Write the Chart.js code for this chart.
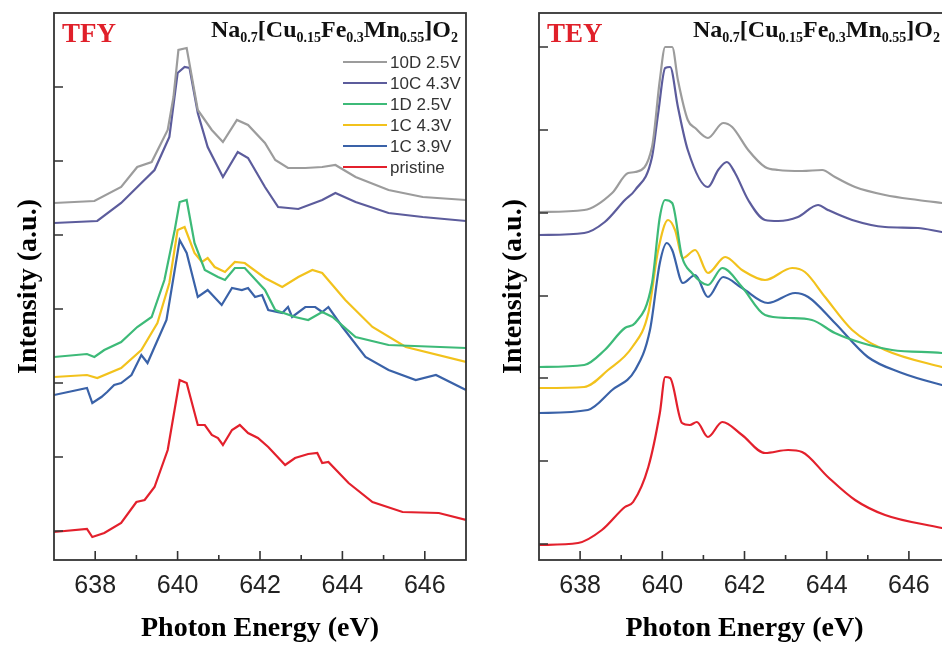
<!DOCTYPE html>
<html>
<head>
<meta charset="utf-8">
<script src="https://cdn.jsdelivr.net/npm/chart.js@4.4.1/dist/chart.umd.min.js"></script>
<style>
  html, body { margin: 0; padding: 0; background: #fff; overflow: hidden; }
  body { width: 942px; height: 648px; position: relative; }
  .panel { position: absolute; top: 0; }
</style>
</head>
<body>
<div class="panel" style="left:0"><canvas id="tfy" width="470" height="648"></canvas></div>
<div class="panel" style="left:470px"><canvas id="tey" width="490" height="648"></canvas></div>
<script>
// series names and colours (same order in both panels, top to bottom)
const seriesLabels = ['10D 2.5V', '10C 4.3V', '1D 2.5V', '1C 4.3V', '1C 3.9V', 'pristine'];
const seriesColors = ['#9c9c9c', '#5c5c9c', '#3dba78', '#f2c21c', '#3a62a8', '#e3202c'];

// axis ticks
const xTickLabels = ['638', '640', '642', '644', '646'];
const tfyYTicks = [29, 103, 177, 251, 325, 399, 473];
const teyYTicks = [16, 99, 182, 264, 347, 430, 513];

// TFY spectra: [photon energy (eV), intensity (a.u., offset)]
const tfy10D = [[637.0,357],[637.98,359],[638.63,373],[639.02,393],[639.37,398],[639.76,430],[639.9,463],[640.02,510],[640.22,512],[640.49,450],[640.83,430],[641.1,418],[641.44,440],[641.71,435],[642.12,417],[642.37,400],[642.68,392],[643.1,392],[643.51,393],[643.83,395],[644.32,383],[645.12,370],[645.95,363],[647.0,360]];
const tfy10C = [[637.0,337],[638.05,339],[638.63,357],[639.12,377],[639.44,390],[639.8,423],[640.0,487],[640.17,493],[640.29,492],[640.49,447],[640.73,413],[641.1,383],[641.46,408],[641.71,402],[642.12,373],[642.44,353],[642.93,351],[643.51,360],[643.83,367],[644.32,358],[645.12,347],[645.95,343],[647.0,339]];
const tfy1D = [[637.0,203],[637.8,206],[637.98,203],[638.22,210],[638.63,218],[639.02,233],[639.37,243],[639.68,280],[639.93,330],[640.05,358],[640.22,360],[640.41,317],[640.66,290],[640.98,283],[641.15,280],[641.39,292],[641.63,292],[642.12,270],[642.37,250],[642.85,243],[643.17,240],[643.51,248],[643.76,243],[644.32,223],[645.12,215],[647.0,212]];
const tfy1C43 = [[637.0,183],[637.8,185],[638.05,182],[638.63,192],[639.12,210],[639.51,237],[639.8,277],[640.0,330],[640.17,333],[640.41,307],[640.59,298],[640.73,302],[640.9,293],[641.15,288],[641.39,298],[641.63,297],[642.12,282],[642.54,273],[642.93,283],[643.27,290],[643.51,287],[644.07,260],[644.73,233],[645.54,213],[647.0,198]];
const tfy1C39 = [[637.0,165],[637.8,172],[637.93,157],[638.15,163],[638.29,168],[638.46,175],[638.63,177],[638.88,185],[639.12,205],[639.27,197],[639.44,213],[639.73,240],[639.93,290],[640.05,320],[640.22,307],[640.49,263],[640.73,270],[641.07,255],[641.32,272],[641.56,270],[641.71,272],[641.88,263],[642.05,265],[642.2,250],[642.54,247],[642.68,253],[642.78,243],[643.1,253],[643.34,253],[643.51,248],[643.66,253],[644.0,233],[644.56,203],[645.12,190],[645.78,180],[646.27,185],[647.0,170]];
const tfyPristine = [[637.0,28],[637.8,31],[637.93,23],[638.22,27],[638.63,37],[639.0,58],[639.2,60],[639.44,73],[639.76,110],[640.05,180],[640.22,177],[640.49,135],[640.66,135],[640.83,125],[640.98,122],[641.1,115],[641.32,130],[641.51,135],[641.71,127],[641.95,122],[642.2,113],[642.61,95],[642.85,102],[643.17,106],[643.39,107],[643.51,97],[643.66,98],[644.15,77],[644.73,58],[645.46,48],[646.34,47],[647.0,40]];

// TEY spectra
const tey10D = [[637.0,348],[638.1,350],[638.78,367],[639.17,387],[639.34,388],[639.75,413],[639.94,480],[640.07,513],[640.24,513],[640.38,480],[640.62,440],[640.8,432],[641.11,422],[641.48,437],[641.7,433],[642.09,410],[642.5,393],[642.82,390],[643.4,389],[643.89,390],[644.2,383],[644.69,373],[645.42,365],[646.22,360],[646.8,357],[647.0,356]];
const tey10C = [[637.0,325],[638.1,327],[638.6,338],[639.09,360],[639.34,370],[639.75,403],[639.9,447],[640.07,492],[640.19,493],[640.38,453],[640.62,410],[641.11,373],[641.36,390],[641.57,398],[641.77,387],[642.09,360],[642.5,340],[642.82,339],[643.3,343],[643.79,355],[644.03,350],[644.62,340],[645.42,333],[646.22,332],[646.8,328],[647.0,327]];
const tey1D = [[637.0,193],[638.1,195],[638.6,210],[639.09,232],[639.34,237],[639.75,277],[639.94,343],[640.07,360],[640.24,357],[640.48,303],[640.72,287],[641.11,275],[641.46,292],[641.94,273],[642.5,245],[643.06,242],[643.64,240],[644.2,227],[644.86,217],[645.59,210],[646.8,207],[647.0,206]];
const tey1C43 = [[637.0,172],[638.1,173],[638.68,190],[639.27,213],[639.66,247],[639.9,310],[640.14,340],[640.31,330],[640.5,302],[640.8,310],[641.11,287],[641.53,303],[641.94,290],[642.5,280],[643.16,292],[643.47,288],[643.96,263],[644.62,230],[645.42,210],[646.8,193],[647.0,191]];
const tey1C39 = [[637.0,147],[638.19,150],[638.78,170],[639.34,190],[639.7,230],[639.94,297],[640.11,317],[640.24,310],[640.5,277],[640.8,285],[641.11,263],[641.48,283],[641.94,272],[642.57,257],[643.23,267],[643.55,263],[644.2,237],[645.0,203],[645.83,187],[646.8,175],[647.0,173]];
const teyPristine = [[637.0,15],[637.95,17],[638.53,30],[639.09,53],[639.29,58],[639.66,93],[639.94,147],[640.07,183],[640.19,182],[640.48,137],[640.67,135],[640.84,138],[641.11,123],[641.46,138],[641.94,125],[642.5,107],[643.06,110],[643.4,108],[644.03,83],[644.69,60],[645.42,45],[646.8,32],[647.0,30]];

const serif = '"Liberation Serif", "Times New Roman", serif';
const sans = '"Liberation Sans", Arial, sans-serif';
const formulaParts = [['Na', 0], ['0.7', 1], ['[Cu', 0], ['0.15', 1], ['Fe', 0], ['0.3', 1], ['Mn', 0], ['0.55', 1], [']O', 0], ['2', 1]];

// frame, inward ticks, panel tag, formula and legend
const panelDecor = {
    id: 'panelDecor',
    afterDraw(chart, args, opts) {
        const { ctx, chartArea: a, scales } = chart;
        ctx.save();
        ctx.strokeStyle = '#333';
        ctx.lineWidth = 1.6;
        ctx.beginPath();
        scales.x.ticks.forEach(t => {
            if (t.value <= scales.x.min || t.value >= scales.x.max) return;
            const px = scales.x.getPixelForValue(t.value);
            const len = t.value % 2 === 0 ? 9 : 5;
            ctx.moveTo(px, a.bottom);
            ctx.lineTo(px, a.bottom - len);
        });
        scales.y.ticks.forEach(t => {
            const py = scales.y.getPixelForValue(t.value);
            ctx.moveTo(a.left, py);
            ctx.lineTo(a.left + 9, py);
        });
        ctx.stroke();
        ctx.lineWidth = 1.8;
        ctx.strokeRect(a.left, a.top, a.right - a.left, a.bottom - a.top);

        // tag (TFY / TEY)
        ctx.fillStyle = '#e0202a';
        ctx.font = 'bold 27px ' + serif;
        ctx.textBaseline = 'alphabetic';
        ctx.textAlign = 'left';
        ctx.fillText(opts.tag, a.left + 8, 42);

        // chemical formula with subscripts
        const mainFont = 'bold 24px ' + serif;
        const subFont = 'bold 14px ' + serif;
        let total = 0;
        formulaParts.forEach(([s, sub]) => { ctx.font = sub ? subFont : mainFont; total += ctx.measureText(s).width; });
        let fx = opts.formulaRight - total;
        ctx.fillStyle = '#111';
        formulaParts.forEach(([s, sub]) => {
            ctx.font = sub ? subFont : mainFont;
            ctx.fillText(s, fx, sub ? 42 : 37);
            fx += ctx.measureText(s).width;
        });

        if (opts.legend) {
            ctx.font = '17px ' + sans;
            ctx.textBaseline = 'middle';
            chart.data.datasets.forEach((ds, i) => {
                const y = 62 + 21 * i;
                ctx.strokeStyle = ds.borderColor;
                ctx.lineWidth = 2;
                ctx.beginPath();
                ctx.moveTo(343, y);
                ctx.lineTo(387, y);
                ctx.stroke();
                ctx.fillStyle = '#333';
                ctx.fillText(ds.label, 390, y + 1);
            });
        }
        ctx.restore();
    }
};

function makePanel(canvasId, series, yTicks, cfg) {
    const datasets = series.map((d, i) => ({
        label: seriesLabels[i],
        data: d,
        borderColor: seriesColors[i],
        borderWidth: 2.2,
        pointRadius: 0,
        cubicInterpolationMode: cfg.smooth ? 'monotone' : 'default',
        tension: 0,
        fill: false
    }));
    return new Chart(document.getElementById(canvasId), {
        type: 'line',
        data: { datasets },
        plugins: [panelDecor],
        options: {
            responsive: false,
            animation: false,
            layout: { padding: { top: 13, right: cfg.padRight, left: 0, bottom: 0 } },
            plugins: {
                legend: { display: false },
                tooltip: { enabled: false },
                panelDecor: { tag: cfg.tag, formulaRight: cfg.formulaRight, legend: cfg.legend }
            },
            scales: {
                x: {
                    type: 'linear',
                    min: 637,
                    max: 647,
                    grid: { display: false },
                    border: { display: false },
                    ticks: {
                        stepSize: 1,
                        autoSkip: false,
                        maxRotation: 0,
                        padding: 3,
                        color: '#222',
                        font: { family: sans, size: 25 },
                        callback: v => xTickLabels.includes(String(v)) ? String(v) : ''
                    },
                    title: {
                        display: true,
                        text: 'Photon Energy (eV)',
                        color: '#000',
                        font: { family: serif, size: 28, weight: 'bold' },
                        padding: { top: 0, bottom: 2 }
                    },
                    afterFit: s => { s.height = 88; }
                },
                y: {
                    min: 0,
                    max: 547,
                    grid: { display: false },
                    border: { display: false },
                    ticks: { display: false },
                    afterBuildTicks: s => { s.ticks = yTicks.map(v => ({ value: v })); },
                    title: {
                        display: true,
                        text: 'Intensity (a.u.)',
                        color: '#000',
                        font: { family: serif, size: 28, weight: 'bold' },
                        padding: { top: cfg.yTitlePad, bottom: 0 }
                    },
                    afterFit: s => { s.width = cfg.yWidth; }
                }
            }
        }
    });
}

makePanel('tfy', [tfy10D, tfy10C, tfy1D, tfy1C43, tfy1C39, tfyPristine], tfyYTicks,
    { tag: 'TFY', formulaRight: 458, legend: true, padRight: 4, yWidth: 54, yTitlePad: 12, smooth: false });
makePanel('tey', [tey10D, tey10C, tey1D, tey1C43, tey1C39, teyPristine], teyYTicks,
    { tag: 'TEY', formulaRight: 470, legend: false, padRight: 10, yWidth: 69, yTitlePad: 27, smooth: true });
</script>
</body>
</html>
